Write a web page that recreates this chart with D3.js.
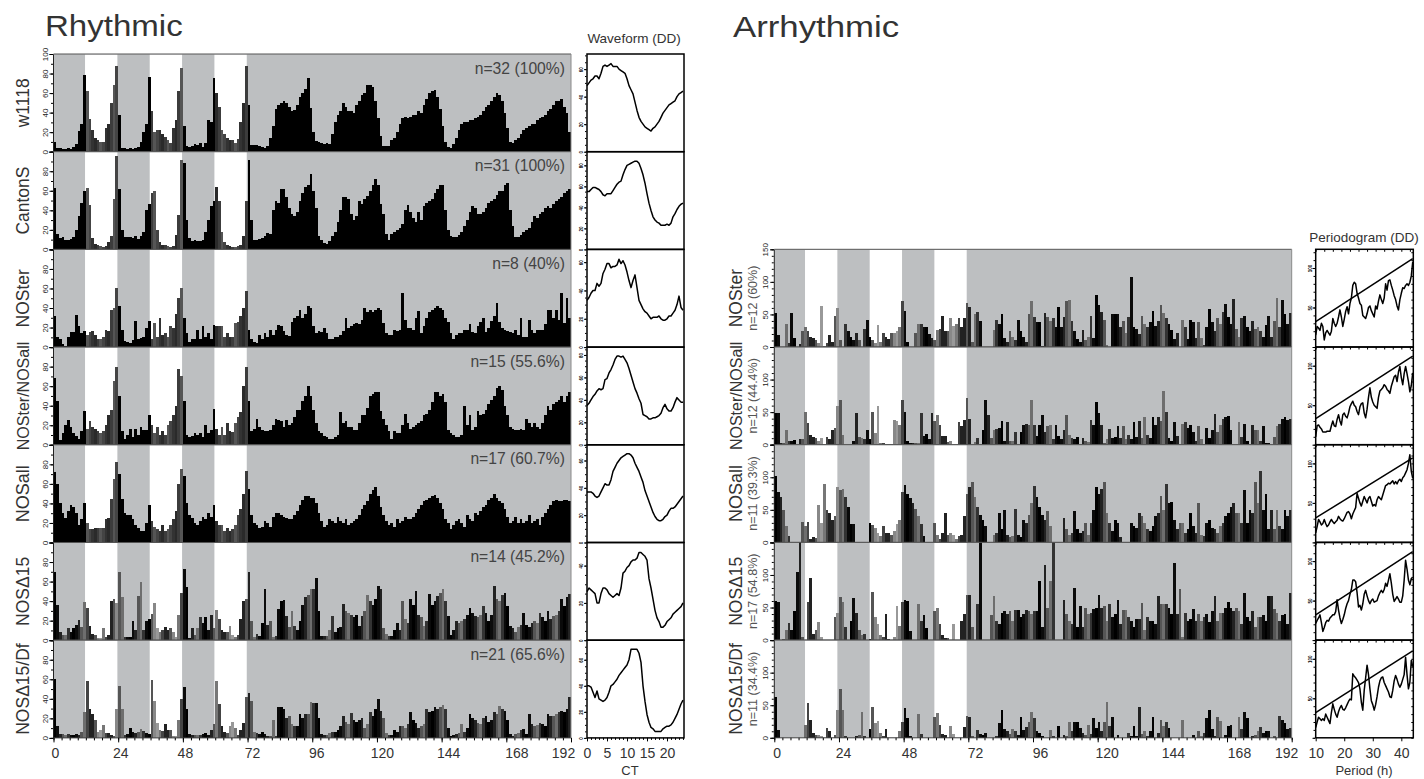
<!DOCTYPE html>
<html>
<head>
<meta charset="utf-8">
<script src="https://cdn.jsdelivr.net/npm/d3@7"></script>
<style>
  html, body { margin: 0; background: #fff; }
  svg { display: block; }
  text { font-family: "Liberation Sans", Arial, sans-serif; }
</style>
</head>
<body>
<svg id="chart" width="1424" height="779"></svg>
<script>
// activity, one value per hour, 0-192 h
const w1118 = [
  10,4,4,3,3,4,3,5,8,21,28,78,62,33,22,14,12,10,10,24,28,50,68,88,
  38,4,4,3,4,3,4,5,10,20,28,76,42,20,22,22,18,15,12,9,24,32,62,86,
  26,6,5,6,8,7,9,5,9,32,30,75,60,46,22,18,14,12,12,9,13,30,50,88,
  48,7,7,7,6,5,4,6,14,26,44,48,50,52,50,46,42,43,48,56,60,64,75,45,
  20,11,10,9,8,9,8,18,30,38,42,50,46,42,42,40,48,52,58,60,68,68,66,52,
  34,16,6,6,6,12,14,20,28,34,36,34,36,38,38,42,40,48,54,60,62,63,56,44,
  26,10,5,4,8,14,22,28,30,30,32,32,34,36,38,42,46,48,52,56,60,58,52,40,
  24,10,9,12,14,18,22,24,26,28,28,32,34,36,38,42,44,48,52,52,54,46,40,20];
const cantonS = [
  63,16,12,13,10,10,11,13,20,34,48,60,63,45,12,6,4,3,2,3,8,14,52,96,
  62,20,13,13,13,12,14,11,14,18,40,46,58,60,20,8,5,4,3,2,3,15,35,92,
  88,30,12,9,10,9,9,10,18,30,44,50,64,50,18,8,5,3,2,2,3,5,14,50,
  92,30,10,10,11,12,14,17,16,40,50,48,62,62,54,42,36,34,38,50,58,64,66,77,
  60,42,14,10,7,6,9,14,18,28,40,54,54,52,36,30,34,50,46,52,55,60,66,72,
  66,46,36,16,10,16,18,20,22,26,40,45,38,32,28,38,30,44,48,50,52,58,62,66,
  66,40,20,14,13,13,15,18,24,30,38,44,42,36,36,38,42,48,50,52,56,60,60,66,
  68,40,24,13,13,15,18,20,22,28,34,32,36,38,42,44,42,46,50,52,54,58,60,62];
const nosterR = [
  32,10,8,3,1,10,15,15,33,22,14,16,12,15,16,12,8,8,10,17,16,38,40,60,
  42,18,6,5,4,7,27,8,9,10,20,27,8,25,10,30,12,14,10,22,20,34,50,60,
  30,14,5,8,8,18,8,22,10,14,8,23,22,22,22,10,14,10,10,25,26,32,40,57,
  18,8,5,4,12,8,14,10,18,12,18,23,22,16,12,11,26,30,32,38,30,34,42,40,
  22,14,16,15,20,14,8,8,10,10,12,16,30,20,22,24,25,24,28,40,36,38,36,38,
  40,38,25,14,12,12,18,16,18,55,28,20,20,18,30,37,14,22,30,36,38,40,42,40,
  38,30,26,14,8,12,14,14,18,17,24,15,14,22,26,30,15,20,27,32,45,26,20,18,
  16,15,14,18,12,30,10,10,28,17,14,17,18,18,24,38,38,30,38,28,55,25,50,30];
const nosterNosallR = [
  68,45,5,12,20,25,18,12,9,6,14,35,16,24,18,16,14,12,14,20,30,36,65,80,
  50,14,6,10,16,8,16,10,18,15,15,30,20,12,18,10,14,10,20,24,30,40,78,70,
  45,10,8,9,12,10,12,8,20,12,15,37,16,10,18,10,22,14,13,22,28,34,60,80,
  45,14,16,26,18,15,14,14,15,20,26,25,24,18,25,20,22,28,36,36,45,50,60,50,
  36,22,14,12,9,8,6,6,8,10,34,22,24,18,18,15,15,22,30,30,38,50,52,54,
  54,35,26,20,14,6,14,12,12,20,32,22,16,18,20,22,24,30,32,36,44,54,54,50,
  52,44,15,12,10,8,8,10,40,20,30,15,18,35,30,32,36,42,46,50,58,60,56,40,
  30,18,16,15,15,16,15,26,22,18,22,18,16,22,30,40,36,42,44,46,50,44,50,54];
const nosallR = [
  72,60,40,30,25,32,38,36,30,18,24,40,20,14,14,15,15,15,15,24,25,45,65,82,
  70,45,30,28,28,24,18,15,12,12,20,38,22,16,14,12,18,12,14,18,24,32,60,75,
  68,40,28,25,20,18,22,26,24,30,26,38,22,18,18,12,15,12,14,18,28,34,50,73,
  55,28,20,18,15,16,22,20,16,26,30,30,28,26,25,24,24,28,32,38,44,48,48,46,
  46,40,30,22,16,18,24,22,20,26,22,20,24,18,20,22,24,28,34,38,42,50,54,57,
  48,36,28,22,18,20,16,24,20,22,26,24,24,26,30,34,38,42,44,46,48,49,46,40,
  34,24,20,14,18,22,24,20,16,28,24,22,30,28,32,36,38,44,46,50,46,42,40,34,
  26,20,22,26,20,24,20,22,28,20,22,24,18,26,30,34,38,42,44,42,42,44,44,42];
const nosD15R = [
  70,36,8,5,5,12,8,12,16,21,14,39,33,15,6,5,2,2,12,3,5,40,42,38,
  70,44,3,3,3,20,10,45,60,10,20,22,27,38,12,8,10,14,10,12,8,3,26,48,
  73,54,2,12,5,12,24,18,24,10,26,12,31,22,10,8,8,15,5,3,5,22,40,42,
  70,20,3,6,4,18,52,16,20,3,4,32,40,41,25,14,30,15,10,20,36,44,46,52,
  52,64,30,4,4,4,10,25,8,12,14,37,30,28,26,24,26,15,25,30,46,40,36,42,
  55,52,12,6,4,4,10,18,10,40,22,18,42,36,50,26,24,15,20,47,36,40,45,48,
  52,40,25,5,10,20,18,20,22,26,33,28,25,24,26,35,28,20,26,55,42,40,46,48,
  35,15,12,8,14,16,28,16,14,18,20,18,28,24,20,30,22,25,26,30,42,35,44,47];
const nosD15DfR = [
  60,12,4,4,3,4,3,3,4,3,6,27,58,30,24,18,6,8,13,5,5,3,2,30,
  53,30,3,4,10,6,5,6,9,7,5,4,59,38,15,8,7,14,8,8,2,2,18,40,
  52,30,4,3,3,3,3,4,5,3,8,14,58,35,12,6,5,12,16,10,3,8,15,42,
  46,38,6,5,4,6,4,2,2,18,2,32,32,30,20,22,14,12,12,24,20,24,24,37,
  36,36,20,4,3,3,5,6,6,8,12,22,16,14,25,18,16,18,20,10,14,26,22,30,
  40,28,20,5,3,3,8,6,12,12,10,14,26,18,15,10,12,14,30,26,28,32,30,32,
  34,30,10,2,3,4,5,14,6,10,24,20,18,15,14,20,22,16,18,26,24,33,30,28,
  18,4,2,4,5,8,9,4,24,14,12,13,15,14,12,24,22,22,24,26,28,26,30,42];

const nosterA = [
  52,18,0,0,35,6,52,14,0,4,25,30,25,16,14,10,6,63,2,6,18,8,48,60,
  10,0,36,25,16,10,22,10,0,28,42,15,10,6,34,8,22,16,12,22,22,24,30,70,
  55,7,0,0,22,36,36,30,30,20,14,10,26,28,47,25,25,44,32,36,44,30,44,68,
  62,8,50,54,40,0,0,0,0,26,42,35,50,14,8,24,16,10,42,25,15,8,50,70,
  46,38,38,2,52,46,40,44,30,62,30,46,70,72,40,24,12,8,26,10,16,48,14,80,
  65,54,42,3,0,50,50,50,30,40,22,46,108,30,28,20,48,35,30,38,55,32,40,64,
  52,44,36,26,12,22,0,42,30,12,42,38,14,38,14,3,30,58,38,24,44,36,54,66,
  46,36,74,28,16,44,48,30,24,40,28,30,24,16,34,48,16,40,75,30,72,50,36,52];
const nosterNosallA = [
  48,48,2,3,22,6,5,7,0,8,8,50,34,15,12,10,5,10,0,12,8,22,25,60,
  68,15,0,0,0,6,48,12,10,8,22,8,50,18,59,2,2,1,1,1,38,36,30,68,
  50,5,3,2,2,2,48,14,16,8,48,36,45,30,14,14,4,5,0,0,35,28,38,72,
  40,0,4,10,0,22,68,45,10,22,24,26,36,6,35,6,6,20,0,20,30,32,30,68,
  30,14,30,45,20,28,30,8,30,14,8,22,45,15,10,8,12,0,10,5,4,38,30,66,
  48,30,2,8,24,10,12,28,10,28,8,15,8,35,12,36,10,42,15,10,42,30,42,36,
  82,50,10,5,35,14,0,32,35,25,30,20,6,28,8,0,25,10,22,47,20,30,40,42,
  44,22,0,0,35,12,32,6,0,30,22,22,6,28,2,2,0,12,28,32,40,42,38,40];
const nosallA = [
  102,78,70,50,25,10,0,0,0,0,32,25,32,5,8,6,57,30,90,50,45,35,40,85,
  80,82,70,55,28,28,0,0,0,0,0,30,26,22,14,10,25,14,15,12,18,28,35,78,
  88,75,68,60,52,40,28,10,0,0,0,30,12,5,14,45,12,14,12,5,10,12,40,75,
  85,92,70,55,42,35,25,0,0,12,14,45,20,50,12,8,10,52,12,8,35,30,42,60,
  87,70,55,42,35,48,25,0,0,0,0,38,20,12,15,48,20,15,18,30,12,30,50,85,
  75,82,92,45,30,18,35,30,8,0,0,0,30,25,22,45,40,30,20,18,25,40,45,72,
  50,90,60,62,35,20,30,30,15,20,45,25,15,60,12,10,30,35,22,20,15,25,30,40,
  45,55,60,45,45,30,80,30,50,45,92,60,110,50,75,20,50,20,50,25,20,50,40,50];
const nosD15A = [
  60,58,0,2,15,26,16,45,105,150,4,0,58,95,10,15,28,5,0,0,0,0,36,42,
  66,58,20,0,30,65,42,15,8,10,0,2,74,35,25,8,5,40,2,0,5,52,22,58,
  62,60,14,0,0,55,30,38,18,0,0,44,50,25,8,3,3,0,25,0,0,30,40,70,
  70,20,0,55,150,0,0,0,38,68,30,25,42,45,40,45,30,46,46,35,40,46,45,40,
  45,45,90,20,115,50,90,150,0,0,0,62,40,30,25,80,20,52,20,50,40,42,48,50,
  70,50,52,30,55,36,40,62,25,46,46,35,30,20,32,32,57,15,35,30,30,25,68,56,
  55,55,50,40,118,40,78,4,42,30,32,48,30,40,30,35,40,28,45,68,30,42,42,50,
  58,50,45,50,45,25,73,36,30,45,20,35,35,38,30,68,68,48,42,30,38,40,25,73];
const nosD15DfA = [
  62,12,0,0,0,0,0,0,0,0,0,20,54,28,8,5,5,2,0,15,10,0,5,43,
  75,42,2,0,0,0,2,5,40,2,0,14,48,22,26,8,3,14,0,0,0,0,10,25,
  46,30,2,0,0,36,6,0,0,0,0,32,38,20,6,4,0,18,6,0,0,0,16,34,
  32,2,0,12,6,4,8,0,0,0,2,22,42,14,10,6,14,10,4,32,12,16,25,40,
  30,10,8,2,0,0,12,2,0,18,0,5,2,25,10,25,25,15,8,4,20,6,30,15,
  24,10,24,55,18,32,0,4,0,0,0,8,2,18,2,47,6,10,2,10,32,0,8,28,
  18,24,15,0,0,0,0,28,0,0,0,4,0,10,2,8,30,42,14,2,32,26,0,4,
  18,20,0,0,32,14,40,30,0,2,4,10,16,8,10,10,0,2,0,34,28,22,14,15];

// waveform in DD, one value per half hour of CT 0-24
const waveW1118 = [48,50,52,53,55,55,53,57,62,63,62,63,64,62,62,62,60,59,58,57,53,48,45,42,36,30,25,22,20,18,17,16,15,17,18,20,22,25,28,30,32,34,35,36,37,40,42,43,44];
const waveCantonS = [55,55,57,59,59,58,57,55,52,51,53,53,53,56,59,62,64,65,71,76,80,81,82,83,84,84,82,77,71,63,53,44,37,31,28,26,25,23,23,23,24,23,25,31,34,38,41,43,44];
const waveNoster = [33,35,38,40,40,45,43,45,52,55,59,59,56,57,57,58,62,59,61,58,53,47,42,47,51,42,33,30,27,25,24,22,20,21,21,21,22,20,19,19,20,22,22,24,26,30,36,28,26];
const waveNosterNosall = [35,37,40,43,45,48,50,49,50,58,59,64,67,71,76,79,79,78,79,76,73,68,62,56,50,46,41,37,27,26,25,23,23,24,24,25,26,28,33,36,32,30,30,33,38,42,40,38,38];
const waveNosall = [37,37,37,36,34,33,34,37,40,43,42,42,46,52,55,58,60,62,63,64,65,65,64,62,58,55,52,48,44,38,34,30,26,22,19,17,16,16,17,19,20,23,25,25,26,28,30,32,34];
const waveNosD15 = [26,28,27,26,25,20,20,25,28,28,27,25,24,23,24,25,24,28,36,37,39,40,42,43,43,44,47,47,46,45,43,33,28,22,16,12,10,7,7,8,10,11,12,14,15,16,17,18,20];
const waveNosD15Df = [40,40,39,35,31,36,30,29,28,29,31,35,40,41,43,45,48,50,52,54,56,60,68,68,68,68,65,58,40,28,18,12,8,7,5,5,5,5,7,8,9,9,10,12,15,18,22,26,29];

// periodogram in DD, one value per half hour of period 10-44 h
const perNoster = [15,26,24,21,30,26,9,18,21,18,15,20,36,30,26,30,38,47,38,26,35,45,51,42,55,62,78,82,80,68,62,55,53,40,38,36,42,50,52,46,42,38,52,48,58,66,60,55,62,80,72,84,85,78,72,65,60,52,47,60,68,75,74,78,80,78,82,90,108];
const perNosterNosall = [10,24,25,22,20,16,16,16,17,17,17,24,30,24,23,32,38,30,25,38,40,36,34,40,48,52,55,50,48,42,38,48,52,53,40,34,45,60,72,60,54,50,48,46,60,68,70,72,76,74,70,68,65,74,80,86,88,80,92,99,85,76,90,99,90,80,67,75,91];
const perNosall = [12,20,29,26,22,24,29,24,20,22,26,29,26,24,26,28,33,30,28,27,30,34,38,39,36,30,36,40,44,62,56,50,46,52,58,54,50,56,58,52,46,48,46,54,58,56,54,60,66,72,73,75,74,76,78,74,77,74,78,80,77,82,84,88,92,100,111,90,81];
const perNosD15 = [21,25,28,32,22,11,16,22,25,24,28,30,32,32,36,51,38,28,21,26,32,40,46,50,58,64,76,76,74,60,42,44,38,46,58,63,56,50,46,50,52,48,49,50,56,60,63,60,64,72,68,76,84,72,58,49,52,55,52,48,48,56,76,101,90,76,70,78,76];
const perNosD15Df = [13,20,26,24,22,24,22,30,26,22,18,32,43,36,30,26,33,38,41,36,35,38,42,46,49,48,81,78,76,73,70,62,45,35,60,76,92,80,62,47,42,35,42,52,64,72,76,77,70,66,62,58,52,51,60,72,79,74,68,64,68,74,80,102,80,62,70,98,90];
const perThreshStart = [32,33,31,32,32];
const perThreshEnd = [112,112,107,112,110];

const rhythmicNames = ["w1118", "CantonS", "NOSter", "NOSter/NOSall", "NOSall", "NOS\u039415", "NOS\u039415/Df"];
const rhythmicN = ["n=32 (100%)", "n=31 (100%)", "n=8 (40%)", "n=15 (55.6%)", "n=17 (60.7%)", "n=14 (45.2%)", "n=21 (65.6%)"];
const arrhythmicNames = ["NOSter", "NOSter/NOSall", "NOSall", "NOS\u039415", "NOS\u039415/Df"];
const arrhythmicN = ["n=12 (60%)", "n=12 (44.4%)", "n=11 (39.3%)", "n=17 (54.8%)", "n=11 (34.4%)"];
const hourTicks = [0, 24, 48, 72, 96, 120, 144, 168, 192];
const lightStarts = [0, 24, 48];
const waveTops = [71, 93, 69, 87, 71.5, 52.4, 75];

// layout
const rowH = 97.7;
const leftTop = 54, rightTop = 249.3;
const nameSizes = [17.5, 17.5, 17.5, 16, 18, 17.5, 17.5];
const arrNameSizes = [17.5, 16, 18, 17.5, 17.5];
const leftLabelShift = [1.5, 2, 2, 4.5, 4, 5, 6.5, 10, -8];
const rightLabelShift = [2.4, 4, 5.3, 6.6, 7, 9, 10.6, 12, -5.6];

const darkMoire = ["#000", "#0c0c0c", "#222", "#555", "#6e6e6e", "#333", "#0a0a0a"];
const lightMoire = ["#222", "#555", "#888", "#999", "#777", "#444", "#222"];
const lightSolid = ["#2a2a2a", "#3c3c3c", "#555", "#444", "#333"];
const panelGrey = "#bdbfc1";

const svg = d3.select("#chart");

function yAxis(g, y, minorVals, majorVals, showTop, top) {
  g.append("g").call(d3.axisLeft(y).tickValues(minorVals).tickSize(2).tickFormat(""))
    .call((a) => a.select(".domain").remove());
  const major = g.append("g").call(
    d3.axisLeft(y).tickValues(majorVals).tickSize(3.5)
      .tickFormat((d) => (d < top || showTop ? d : ""))
  );
  major.select(".domain").attr("stroke", "#222");
  major.selectAll("text")
    .attr("x", 0).attr("dy", 0)
    .attr("transform", "translate(-5.5,0) rotate(-90)")
    .attr("text-anchor", "middle")
    .style("font-size", "8px")
    .attr("fill", "#222");
}

function barPanel({ series, top, x, lightShift, maxY, label, moire, minorVals, majorVals, showTop }) {
  const g = svg.append("g").attr("transform", `translate(0,${top})`);
  const y = d3.scaleLinear().domain([0, maxY]).range([rowH, 0]);

  g.append("rect")
    .attr("x", x(0)).attr("y", 0)
    .attr("width", x(192) - x(0)).attr("height", rowH)
    .attr("fill", panelGrey);

  g.selectAll(".light")
    .data(lightStarts)
    .join("rect")
    .attr("class", "light")
    .attr("x", (d) => x(d + 12 - lightShift))
    .attr("y", 0.5)
    .attr("width", x(12) - x(0))
    .attr("height", rowH - 1)
    .attr("fill", "white");

  const isLight = (i) => i >= 12 && i < 72 && Math.floor(i / 12) % 2 === 1;
  g.selectAll(".bar")
    .data(series)
    .join("rect")
    .attr("class", "bar")
    .attr("x", (d, i) => x(i))
    .attr("y", (d) => y(d))
    .attr("width", x(1) - x(0))
    .attr("height", (d) => y(0) - y(d))
    .attr("shape-rendering", "crispEdges")
    .attr("fill", (d, i) => {
      if (isLight(i)) return moire ? lightMoire[i % 7] : lightSolid[i % 5];
      return moire ? darkMoire[i % 7] : "#000";
    });

  // frame lines
  g.append("line").attr("x1", x(0)).attr("x2", x(192)).attr("y1", 0).attr("y2", 0).attr("stroke", "#555");
  g.append("line").attr("x1", x(0)).attr("x2", x(192)).attr("y1", rowH).attr("y2", rowH).attr("stroke", "#444");
  g.append("line").attr("x1", x(192)).attr("x2", x(192)).attr("y1", 0).attr("y2", rowH).attr("stroke", "#8a8a8a");

  const ax = g.append("g").attr("transform", `translate(${x(0) - 0.5},0)`);
  yAxis(ax, y, minorVals, majorVals, showTop, maxY);

  if (label) {
    g.append("text")
      .attr("x", x(192) - 6).attr("y", 19.5)
      .attr("text-anchor", "end")
      .attr("fill", "#444")
      .style("font-size", "15.7px")
      .text(label);
  }
}

function hourAxis(x, y, shifts) {
  const g = svg.append("g").attr("transform", `translate(0,${y})`);
  g.append("g").call(d3.axisBottom(x).tickValues(d3.range(0, 193, 3)).tickSize(2.5).tickFormat(""))
    .call((a) => a.select(".domain").remove());
  const major = g.append("g").call(d3.axisBottom(x).tickValues(hourTicks).tickSize(4.5));
  major.select(".domain").remove();
  major.selectAll("text")
    .attr("y", 10.5).attr("dy", "0.71em")
    .attr("dx", (d, i) => shifts[i])
    .attr("fill", "#333")
    .style("font-size", "14px");
}

function framedPanel(top, x0, x1) {
  return svg.append("rect")
    .attr("x", x0).attr("y", top)
    .attr("width", x1 - x0).attr("height", rowH)
    .attr("fill", "none").attr("stroke", "#000").attr("stroke-width", 1.5);
}

function tinyAxis(top, x0, y, minorVals, majorVals, labels) {
  const g = svg.append("g").attr("transform", `translate(${x0},${top})`);
  g.append("g").call(d3.axisLeft(y).tickValues(minorVals).tickSize(1.5).tickFormat(""))
    .call((a) => a.select(".domain").remove());
  const major = g.append("g").call(
    d3.axisLeft(y).tickValues(majorVals).tickSize(2.5)
      .tickFormat((d) => (labels.includes(d) ? d : ""))
  );
  major.select(".domain").remove();
  major.selectAll("text")
    .attr("x", 0).attr("dy", 0)
    .attr("transform", "translate(-3.2,0) rotate(-90)")
    .attr("text-anchor", "middle")
    .style("font-size", "4.5px")
    .style("font-weight", "bold")
    .attr("fill", "#000");
}

// rhythmic block
const xLeft = d3.scaleLinear().domain([0, 192]).range([53.5, 571]);
[w1118, cantonS, nosterR, nosterNosallR, nosallR, nosD15R, nosD15DfR].forEach((series, i) => {
  barPanel({
    series,
    top: leftTop + i * rowH,
    x: xLeft,
    lightShift: 0.3,
    maxY: 100,
    label: rhythmicN[i],
    moire: i >= 5,
    minorVals: d3.range(0, 101, 10),
    majorVals: d3.range(0, 101, 20),
    showTop: i === 0,
  });
});
hourAxis(xLeft, leftTop + 7 * rowH, leftLabelShift);

// arrhythmic block
const xRight = d3.scaleLinear().domain([0, 192]).range([774.3, 1291.7]);
[nosterA, nosterNosallA, nosallA, nosD15A, nosD15DfA].forEach((series, i) => {
  barPanel({
    series,
    top: rightTop + i * rowH,
    x: xRight,
    lightShift: 0.6,
    maxY: 150,
    label: null,
    moire: true,
    minorVals: d3.range(0, 151, 10),
    majorVals: d3.range(0, 151, 50),
    showTop: i === 0,
  });
});
hourAxis(xRight, rightTop + 5 * rowH, rightLabelShift);

// waveforms
const xWave = d3.scaleLinear().domain([0, 24]).range([587, 683]);
[waveW1118, waveCantonS, waveNoster, waveNosterNosall, waveNosall, waveNosD15, waveNosD15Df].forEach((values, i) => {
  const top = leftTop + i * rowH;
  const y = d3.scaleLinear().domain([0, waveTops[i]]).range([rowH, 0]);
  const line = d3.line().x((d, k) => xWave(k / 2)).y((d) => y(d));
  svg.append("path")
    .attr("transform", `translate(0,${top})`)
    .attr("d", line(values))
    .attr("fill", "none").attr("stroke", "#000").attr("stroke-width", 1.5)
    .style("stroke-linejoin", "round");
  framedPanel(top, 587, 684);
  const majors = d3.range(0, waveTops[i], 20);
  tinyAxis(top, 586.5, y, d3.range(0, waveTops[i], 5), majors, majors);
});

const waveAxis = svg.append("g").attr("transform", `translate(0,${leftTop + 7 * rowH})`);
waveAxis.append("g").call(d3.axisBottom(xWave).tickValues(d3.range(0, 25)).tickSize(2).tickFormat(""))
  .call((a) => a.select(".domain").remove());
const waveMajor = waveAxis.append("g").call(d3.axisBottom(xWave).tickValues([0, 5, 10, 15, 20]).tickSize(3.5));
waveMajor.select(".domain").remove();
waveMajor.selectAll("text")
  .attr("y", 10.5).attr("dy", "0.71em")
  .attr("fill", "#333").style("font-size", "14px");

// periodograms
const xPeriod = d3.scaleLinear().domain([10, 44.2]).range([1315.7, 1413.3]);
const yPeriod = d3.scaleLinear().domain([0, 123.7]).range([rowH, 0]);
[perNoster, perNosterNosall, perNosall, perNosD15, perNosD15Df].forEach((values, i) => {
  const top = rightTop + i * rowH;
  const g = svg.append("g").attr("transform", `translate(0,${top})`);
  const line = d3.line().x((d, k) => xPeriod(10 + k / 2)).y((d) => yPeriod(d));
  g.append("path")
    .attr("d", line(values))
    .attr("fill", "none").attr("stroke", "#000").attr("stroke-width", 1.5)
    .style("stroke-linejoin", "round");
  g.append("line")
    .attr("x1", xPeriod(10)).attr("y1", yPeriod(perThreshStart[i]))
    .attr("x2", xPeriod(44)).attr("y2", yPeriod(perThreshEnd[i]))
    .attr("stroke", "#000").attr("stroke-width", 1.5);
  framedPanel(top, 1315.7, 1413.3);
  tinyAxis(top, 1315, yPeriod, d3.range(0, 121, 10), [0, 50, 100], [50, 100]);
  g.append("g").call(d3.axisTop(xPeriod).tickValues(d3.range(10, 45, 3)).tickSize(-2.5).tickFormat(""))
    .call((a) => a.select(".domain").remove());
  g.append("g").attr("transform", `translate(1413.3,0)`)
    .call(d3.axisLeft(yPeriod).tickValues(d3.range(0, 121, 10)).tickSize(2).tickFormat(""))
    .call((a) => a.select(".domain").remove());
});

const perAxis = svg.append("g").attr("transform", `translate(0,${rightTop + 5 * rowH})`);
const perMajor = perAxis.append("g").call(d3.axisBottom(xPeriod).tickValues([10, 20, 30, 40]).tickSize(3.5));
perMajor.select(".domain").remove();
perMajor.selectAll("text")
  .attr("y", 10.5).attr("dy", "0.71em")
  .attr("fill", "#333").style("font-size", "14px");

// row names
function rowName(x, y, text, size, color) {
  svg.append("text")
    .attr("transform", `translate(${x},${y}) rotate(-90)`)
    .attr("text-anchor", "middle")
    .attr("fill", color)
    .style("font-size", `${size}px`)
    .text(text);
}
rhythmicNames.forEach((name, i) => {
  rowName(29, leftTop + i * rowH + rowH / 2, name, nameSizes[i], "#333");
});
arrhythmicNames.forEach((name, i) => {
  rowName(742, rightTop + i * rowH + rowH / 2, name, arrNameSizes[i], "#333");
  rowName(757, rightTop + i * rowH + rowH / 2, arrhythmicN[i], 12.5, "#555");
});

// titles
const title = (x, y, text, size, anchor) =>
  svg.append("text").attr("x", x).attr("y", y)
    .attr("text-anchor", anchor || "start")
    .attr("fill", "#333")
    .style("font-size", `${size}px`)
    .text(text);
const bigTitle = (x, y, text, stretch) =>
  svg.append("text")
    .attr("transform", `translate(${x},${y}) scale(${stretch},1)`)
    .attr("fill", "#333")
    .style("font-size", "29px")
    .text(text);
bigTitle(45, 36, "Rhythmic", 1.14);
bigTitle(733, 37, "Arrhythmic", 1.2);
title(634, 43, "Waveform (DD)", 13.5, "middle");
title(1364, 242, "Periodogram (DD)", 13.5, "middle");
title(630, 775, "CT", 13, "middle");
title(1364, 775, "Period (h)", 13, "middle");
</script>
</body>
</html>
